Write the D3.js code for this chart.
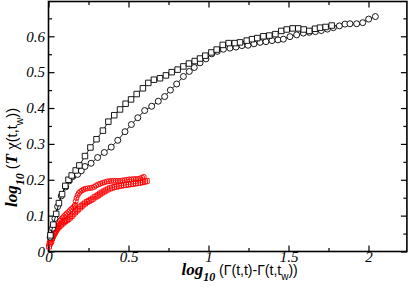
<!DOCTYPE html>
<html>
<head>
<meta charset="utf-8">
<script src="https://cdn.jsdelivr.net/npm/d3@7"></script>
<style>
  body { margin: 0; background: #fff; }
  svg { display: block; }
</style>
</head>
<body>
<svg width="409" height="292"></svg>
<script>
// chart values
var xMajor = [0, 0.5, 1, 1.5, 2];
var xMinor = [0.25, 0.75, 1.25, 1.75];
var yMajor = [0, 0.1, 0.2, 0.3, 0.4, 0.5, 0.6];
var yMinor = [0.05, 0.15, 0.25, 0.35, 0.45, 0.55, 0.65];

// black squares
var blackSquares = [[0.012,0.045],[0.030,0.075],[0.048,0.105],[0.065,0.135],[0.085,0.160],[0.105,0.183],
  [0.125,0.200],[0.145,0.212],[0.170,0.226],[0.193,0.240],[0.228,0.266],[0.262,0.290],[0.300,0.313],
  [0.340,0.337],[0.374,0.362],[0.411,0.380],[0.447,0.396],[0.482,0.412],[0.516,0.424],[0.551,0.439],
  [0.590,0.455],[0.624,0.470],[0.659,0.479],[0.697,0.483],[0.734,0.491],[0.770,0.500],[0.807,0.507],
  [0.843,0.516],[0.878,0.524],[0.914,0.531],[0.947,0.538],[0.980,0.546],[1.018,0.555],[1.051,0.563],
  [1.089,0.576],[1.126,0.581],[1.164,0.581],[1.197,0.583],[1.239,0.588],[1.272,0.592],[1.305,0.595],
  [1.343,0.600],[1.380,0.602],[1.418,0.606],[1.455,0.615],[1.489,0.619],[1.526,0.622],[1.561,0.622],
  [1.595,0.619],[1.630,0.615],[1.666,0.621],[1.697,0.624],[1.732,0.626],[1.770,0.630]];

// black circles
var blackCircles = [[0.010,0.040],[0.025,0.065],[0.040,0.092],[0.057,0.125],[0.080,0.155],[0.107,0.180],
  [0.130,0.197],[0.152,0.209],[0.182,0.215],[0.205,0.225],[0.228,0.237],[0.266,0.246],[0.307,0.262],
  [0.349,0.276],[0.392,0.291],[0.433,0.310],[0.478,0.334],[0.518,0.354],[0.558,0.373],[0.601,0.393],
  [0.645,0.405],[0.686,0.419],[0.726,0.432],[0.762,0.450],[0.801,0.467],[0.843,0.488],[0.880,0.502],
  [0.911,0.513],[0.947,0.526],[0.984,0.537],[1.020,0.551],[1.055,0.558],[1.093,0.564],[1.134,0.567],
  [1.172,0.570],[1.209,0.574],[1.247,0.575],[1.284,0.579],[1.322,0.583],[1.359,0.585],[1.397,0.588],
  [1.434,0.590],[1.468,0.592],[1.509,0.599],[1.551,0.604],[1.593,0.609],[1.630,0.611],[1.668,0.613],
  [1.705,0.616],[1.743,0.620],[1.780,0.624],[1.818,0.629],[1.853,0.634],[1.884,0.635],[1.926,0.635],
  [1.964,0.638],[2.001,0.648],[2.043,0.655]];

// red squares (lower red curve)
var redSquares = [[0.003,0.014],[0.008,0.022],[0.012,0.028],[0.017,0.033],[0.022,0.038],[0.027,0.043],
  [0.033,0.048],[0.039,0.053],[0.046,0.058],[0.053,0.063],[0.061,0.067],[0.069,0.071],[0.078,0.075],
  [0.087,0.078],[0.096,0.082],[0.105,0.085],[0.115,0.088],[0.125,0.091],[0.135,0.095],[0.145,0.099],
  [0.155,0.104],[0.166,0.109],[0.176,0.114],[0.186,0.118],[0.197,0.123],[0.207,0.127],[0.218,0.131],
  [0.228,0.134],[0.240,0.138],[0.252,0.141],[0.264,0.144],[0.276,0.147],[0.288,0.151],[0.300,0.154],
  [0.311,0.157],[0.322,0.161],[0.333,0.164],[0.345,0.167],[0.357,0.170],[0.370,0.173],[0.384,0.176],
  [0.398,0.178],[0.412,0.180],[0.426,0.181],[0.440,0.183],[0.455,0.184],[0.470,0.185],[0.485,0.186],
  [0.500,0.187],[0.515,0.188],[0.530,0.189],[0.545,0.190],[0.560,0.191],[0.575,0.192],[0.590,0.194],
  [0.603,0.195],[0.614,0.197]];

// red circles (upper red curve)
var redCircles = [[0.018,0.025],[0.024,0.035],[0.030,0.043],[0.036,0.050],[0.041,0.055],[0.047,0.062],
  [0.052,0.067],[0.057,0.072],[0.064,0.078],[0.072,0.086],[0.080,0.090],[0.088,0.094],[0.096,0.098],
  [0.105,0.102],[0.114,0.106],[0.124,0.110],[0.134,0.115],[0.144,0.119],[0.155,0.123],[0.162,0.126],
  [0.166,0.130],[0.170,0.140],[0.175,0.149],[0.182,0.157],[0.190,0.163],[0.199,0.167],[0.209,0.170],
  [0.220,0.173],[0.232,0.175],[0.245,0.176],[0.259,0.177],[0.272,0.178],[0.285,0.180],[0.298,0.184],
  [0.311,0.187],[0.324,0.189],[0.337,0.191],[0.350,0.193],[0.364,0.195],[0.378,0.196],[0.392,0.197],
  [0.406,0.197],[0.420,0.197],[0.434,0.197],[0.448,0.197],[0.462,0.198],[0.476,0.199],[0.490,0.200],
  [0.504,0.201],[0.518,0.201],[0.532,0.202],[0.546,0.202],[0.560,0.202],[0.574,0.204],[0.586,0.206],
  [0.595,0.208]];

var svg = d3.select("svg");

var x = d3.scaleLinear().domain([0, 2.24]).range([48.5, 406.9]);
var y = d3.scaleLinear().domain([0, 0.697]).range([251.5, 1.5]);

var serif = "'Liberation Serif', 'Times New Roman', serif",
    sans = "'Liberation Sans', Arial, sans-serif";

// axes, ticks pointing inward on all four sides
function addAxis(axis, tx, ty, labels) {
  var g = svg.append("g")
      .attr("transform", "translate(" + tx + "," + ty + ")")
      .call(axis);
  g.select(".domain").remove();
  g.selectAll(".tick line").attr("stroke", "#000").attr("stroke-width", 1.2);
  g.selectAll("text")
      .attr("font-family", serif)
      .attr("font-style", "italic")
      .attr("font-size", 15)
      .attr("fill", "#000");
  if (!labels) g.selectAll("text").remove();
  return g;
}

var fmt = function(d) { return String(d); };

addAxis(d3.axisBottom(x).tickValues(xMajor).tickSizeInner(-6).tickSizeOuter(0).tickPadding(0).tickFormat(fmt), 0, 251.5, true);
addAxis(d3.axisBottom(x).tickValues(xMinor).tickSizeInner(-3.5).tickSizeOuter(0), 0, 251.5, false);
addAxis(d3.axisTop(x).tickValues(xMajor).tickSizeInner(-6).tickSizeOuter(0), 0, 1.5, false);
addAxis(d3.axisTop(x).tickValues(xMinor).tickSizeInner(-3.5).tickSizeOuter(0), 0, 1.5, false);
addAxis(d3.axisLeft(y).tickValues(yMajor).tickSizeInner(-6).tickSizeOuter(0).tickPadding(3.5).tickFormat(fmt), 48.5, 0, true);
addAxis(d3.axisLeft(y).tickValues(yMinor).tickSizeInner(-3.5).tickSizeOuter(0), 48.5, 0, false);
addAxis(d3.axisRight(y).tickValues(yMajor).tickSizeInner(-6).tickSizeOuter(0), 406.9, 0, false);
addAxis(d3.axisRight(y).tickValues(yMinor).tickSizeInner(-3.5).tickSizeOuter(0), 406.9, 0, false);

// frame
svg.append("rect")
    .attr("x", x(0)).attr("y", y(0.697))
    .attr("width", x(2.24) - x(0))
    .attr("height", y(0) - y(0.697))
    .attr("fill", "none")
    .attr("stroke", "#000")
    .attr("stroke-width", 1.6);

var line = d3.line()
    .x(function(d) { return x(d[0]); })
    .y(function(d) { return y(d[1]); });

function drawSeries(data, color, shape, size, fill, lw) {
  svg.append("path")
      .datum(data)
      .attr("d", line)
      .attr("fill", "none")
      .attr("stroke", color)
      .attr("stroke-width", lw);
  var sym = d3.symbol().type(shape === "square" ? d3.symbolSquare : d3.symbolCircle)
      .size(shape === "square" ? size * size : Math.PI * size * size / 4);
  svg.append("g").selectAll("path")
      .data(data)
      .enter().append("path")
      .attr("d", sym)
      .attr("transform", function(d) { return "translate(" + x(d[0]) + "," + y(d[1]) + ")"; })
      .attr("fill", fill)
      .attr("stroke", color)
      .attr("stroke-width", 0.9);
}

drawSeries(redSquares, "#ff0000", "square", 5, "none", 0.8);
drawSeries(redCircles, "#ff0000", "circle", 5, "none", 0.8);
drawSeries(blackCircles, "#000", "circle", 6, "#fff", 0.9);
drawSeries(blackSquares, "#000", "square", 5.5, "#fff", 0.9);

// axis titles
var xt = svg.append("text")
    .attr("x", 181.5).attr("y", 275)
    .attr("fill", "#000");
xt.append("tspan").attr("font-family", serif).attr("font-weight", "bold").attr("font-style", "italic")
    .attr("font-size", 17).text("log");
xt.append("tspan").attr("font-family", serif).attr("font-weight", "bold").attr("font-style", "italic")
    .attr("font-size", 12).attr("dy", 6).text("10");
xt.append("tspan").attr("font-family", sans).attr("font-size", 14).attr("dy", -6).text(" (Γ(t,t)-Γ(t,t");
xt.append("tspan").attr("font-family", sans).attr("font-size", 10).attr("dy", 5).text("w");
xt.append("tspan").attr("font-family", sans).attr("font-size", 14).attr("dy", -5).text("))");

var yt = svg.append("text")
    .attr("transform", "translate(17,207) rotate(-90)")
    .attr("fill", "#000");
yt.append("tspan").attr("font-family", serif).attr("font-weight", "bold").attr("font-style", "italic")
    .attr("font-size", 17).text("log");
yt.append("tspan").attr("font-family", serif).attr("font-weight", "bold").attr("font-style", "italic")
    .attr("font-size", 12).attr("dy", 7).text("10");
yt.append("tspan").attr("font-family", sans).attr("font-size", 14.5).attr("dy", -7).text(" (");
yt.append("tspan").attr("font-family", serif).attr("font-weight", "bold").attr("font-style", "italic")
    .attr("font-size", 17).text("T ");
yt.append("tspan").attr("font-family", serif).attr("font-size", 17).text("χ");
yt.append("tspan").attr("font-family", sans).attr("font-size", 14.5).text("(t,t");
yt.append("tspan").attr("font-family", sans).attr("font-size", 10.5).attr("dy", 6).text("w");
yt.append("tspan").attr("font-family", sans).attr("font-size", 14.5).attr("dy", -6).text("))");
</script>
</body>
</html>
